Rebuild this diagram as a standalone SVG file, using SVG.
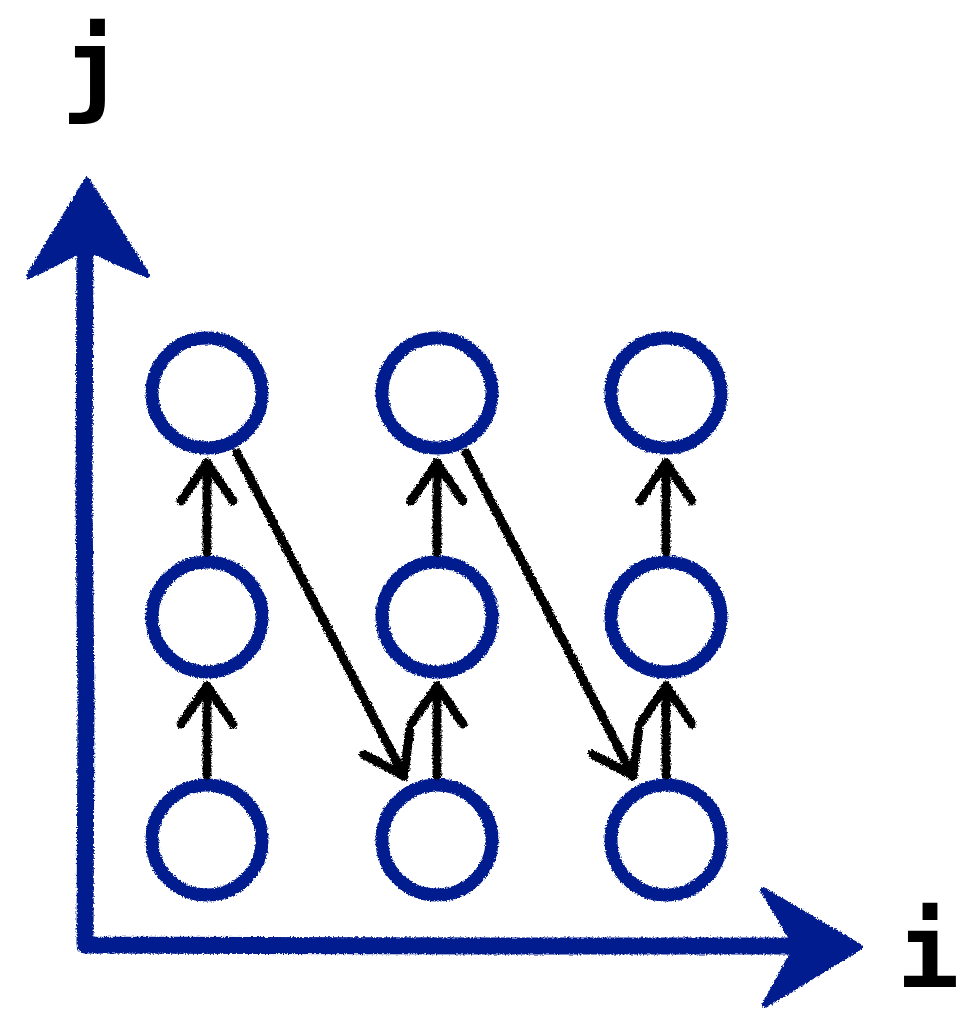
<svg xmlns="http://www.w3.org/2000/svg" width="963" height="1011" viewBox="0 0 963 1011">
<style>
.axis{stroke:#031b8f;stroke-width:17;fill:none;stroke-linecap:round;stroke-linejoin:round}
.axhead{fill:#031b8f;stroke:#031b8f;stroke-width:6;stroke-linejoin:round}
.node{fill:none;stroke:#031b8f;stroke-width:13}
.edge{stroke:#000;stroke-width:9;fill:none;stroke-linecap:round}
.lbl{font-family:"DejaVu Sans Mono","Liberation Mono",monospace;font-weight:bold;font-size:104px;fill:#000}
</style>
<defs>
<filter id="rough" x="-10%" y="-10%" width="120%" height="120%">
<feTurbulence type="fractalNoise" baseFrequency="0.6" numOctaves="2" seed="3" result="n"/>
<feDisplacementMap in="SourceGraphic" in2="n" scale="4" xChannelSelector="R" yChannelSelector="G"/>
</filter>
<marker id="head" markerUnits="userSpaceOnUse" markerWidth="90" markerHeight="90" orient="auto" overflow="visible" refX="0" refY="0">
<path d="M-38,-26 L0,0 L-38,26" fill="none" stroke="#000" stroke-width="9" stroke-linecap="round" stroke-linejoin="round"/>
</marker>
</defs>
<g id="axes" filter="url(#rough)">
<path class="axis" d="M85,245 L84,500 L86,700 L85,945 L500,946 L800,946"/>
<path class="axhead" d="M87,180 L147,275 L95,252 L77,252 L29,276 Z"/>
<path class="axhead" d="M860,947 L763,890 L793,940 L793,953 L765,1005 Z"/>
</g>
<text class="lbl" x="93" y="103" text-anchor="middle">j</text>
<text class="lbl" x="928" y="987" text-anchor="middle">i</text>
<g id="n11" filter="url(#rough)"><circle class="node" cx="207" cy="393" r="55"/></g>
<g id="n21" filter="url(#rough)"><circle class="node" cx="437" cy="393" r="55"/></g>
<g id="n31" filter="url(#rough)"><circle class="node" cx="666" cy="393" r="55"/></g>
<g id="n12" filter="url(#rough)"><circle class="node" cx="207" cy="617" r="55"/></g>
<g id="n22" filter="url(#rough)"><circle class="node" cx="437" cy="617" r="55"/></g>
<g id="n32" filter="url(#rough)"><circle class="node" cx="666" cy="617" r="55"/></g>
<g id="n13" filter="url(#rough)"><circle class="node" cx="207" cy="840" r="55"/></g>
<g id="n23" filter="url(#rough)"><circle class="node" cx="437" cy="840" r="55"/></g>
<g id="n33" filter="url(#rough)"><circle class="node" cx="666" cy="840" r="55"/></g>
<g id="edges" filter="url(#rough)">
<line class="edge" x1="207" y1="775" x2="207" y2="686" marker-end="url(#head)"/>
<line class="edge" x1="207" y1="552" x2="207" y2="463" marker-end="url(#head)"/>
<line class="edge" x1="437" y1="775" x2="437" y2="686" marker-end="url(#head)"/>
<line class="edge" x1="437" y1="552" x2="437" y2="463" marker-end="url(#head)"/>
<line class="edge" x1="666" y1="775" x2="666" y2="686" marker-end="url(#head)"/>
<line class="edge" x1="666" y1="552" x2="666" y2="463" marker-end="url(#head)"/>
<line class="edge" x1="237" y1="453" x2="404" y2="776" marker-end="url(#head)"/>
<line class="edge" x1="466" y1="453" x2="633" y2="776" marker-end="url(#head)"/>
</g>
</svg>
